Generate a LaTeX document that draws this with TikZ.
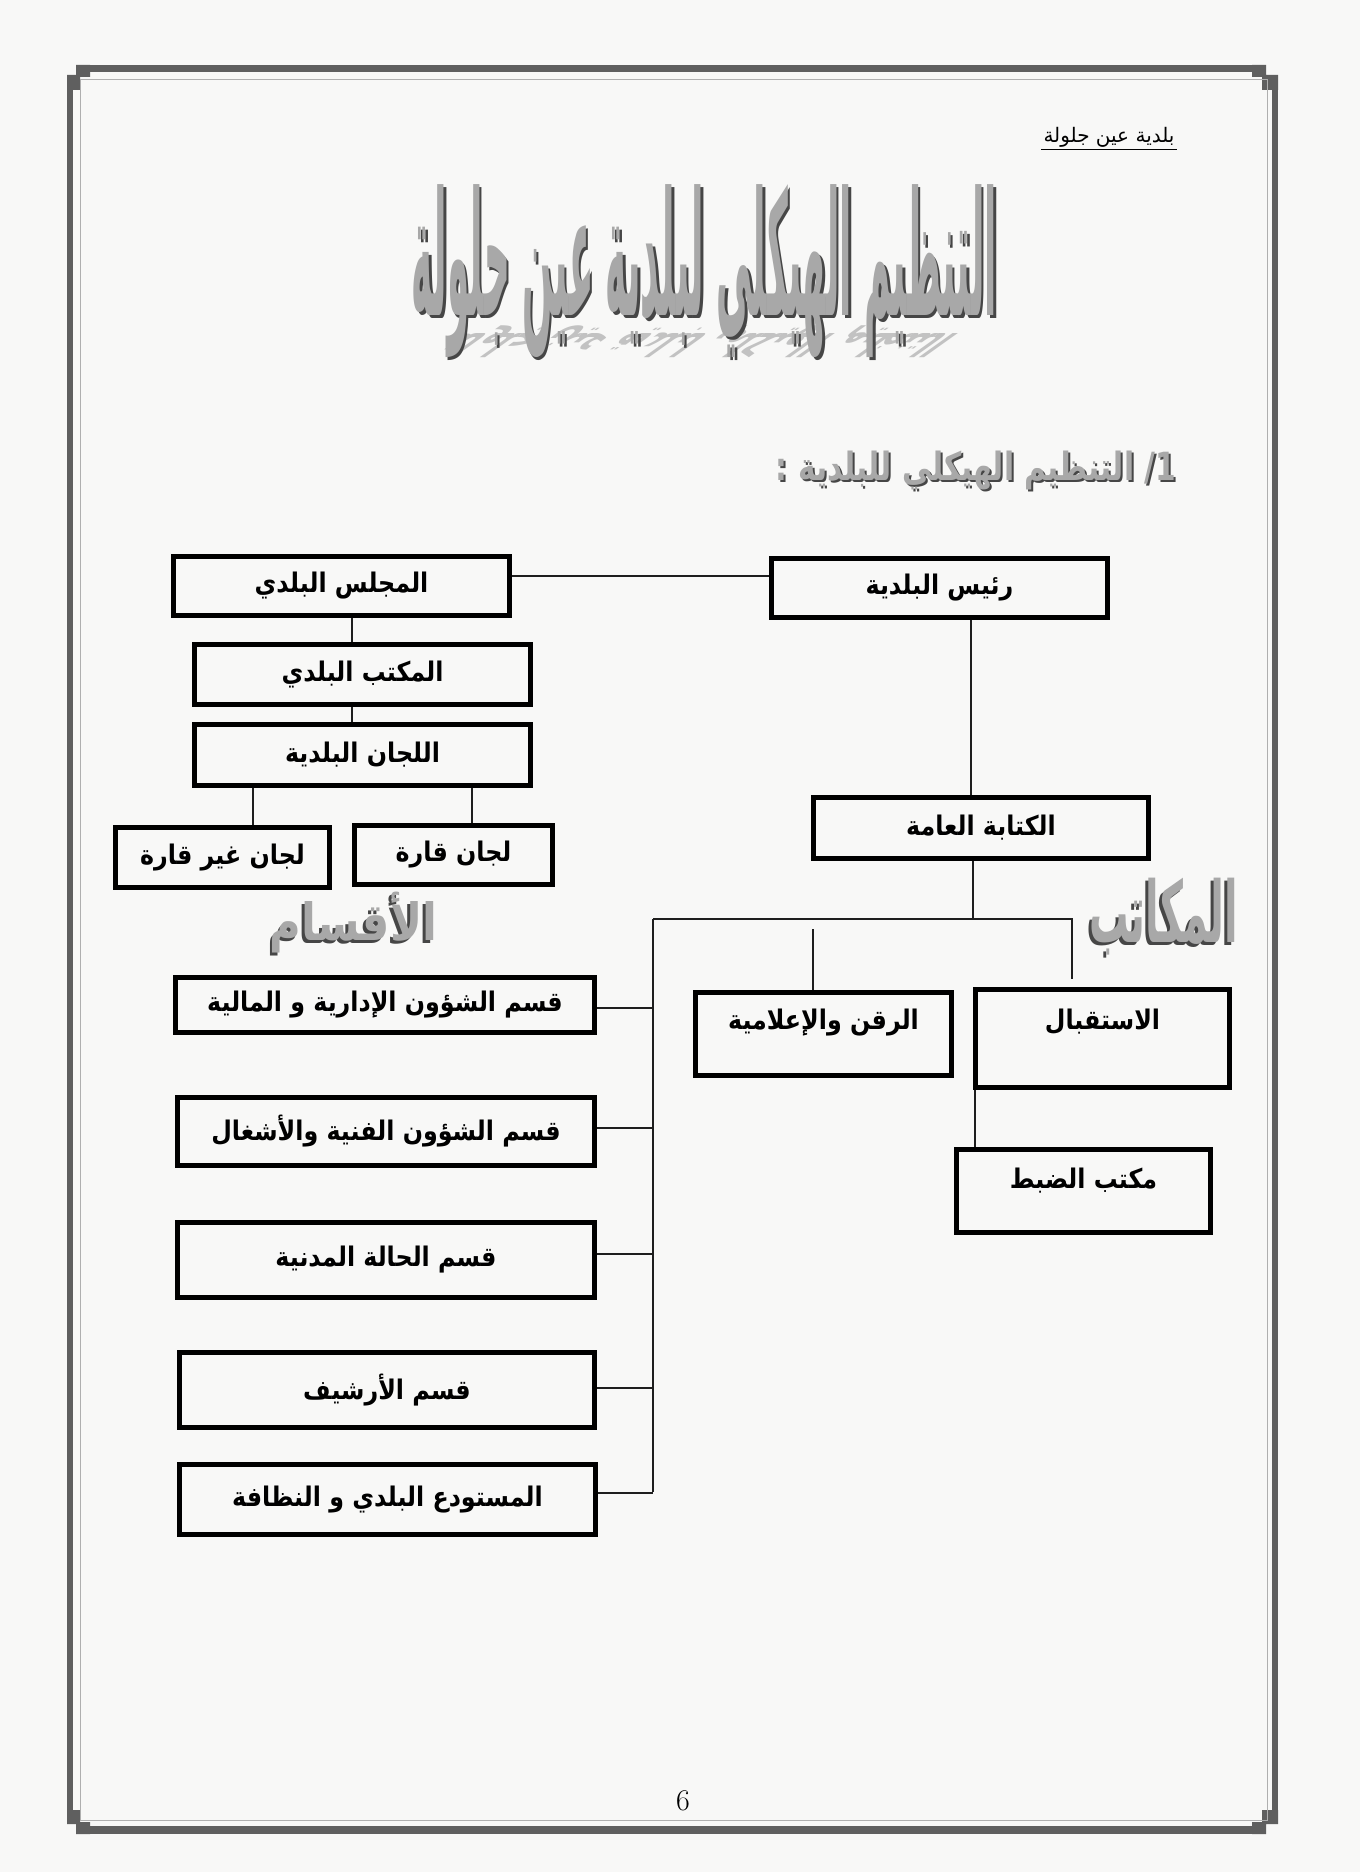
\documentclass[tikz,border=0pt]{standalone}
\usepackage{fontspec}
\usepackage{graphicx}
\usepackage{xcolor}
\usepackage{tikz}
\TeXXeTstate=1
\newfontfamily\arabicfont[Script=Arabic]{DejaVu Sans}
\newfontfamily\arabicbox[Script=Arabic,FakeStretch=0.88]{DejaVu Sans}
\newfontfamily\arabicart[Script=Arabic,AutoFakeSlant=0.25]{DejaVu Sans}
\newcommand{\artxt}[1]{\beginR #1\endR}
\definecolor{pagebg}{RGB}{248,248,247}
\definecolor{framegray}{RGB}{95,95,95}
\definecolor{framelight}{RGB}{175,175,175}
\definecolor{artgray}{RGB}{168,168,168}
\definecolor{artdark}{RGB}{70,70,70}
\definecolor{linkgray}{RGB}{30,30,30}

\begin{document}
\begin{tikzpicture}[x=0.5pt, y=-0.5pt,
  unitbox/.style={draw=black, line width=2.2pt, inner sep=0pt, font=\arabicbox\bfseries\fontsize{13.5}{16}\selectfont},
  link/.style={draw=linkgray, line width=0.8pt},
  art/.style={inner sep=0pt}]

\fill[pagebg] (0,0) rectangle (1360,1872);
\useasboundingbox (0,0) rectangle (1360,1872);

% Page frame
\draw[framegray, line width=3.5pt] (86,69) -- (1256,69);
\draw[framegray, line width=3pt] (1275,90) -- (1275,1812);
\draw[framegray, line width=4pt] (86,1830) -- (1256,1830);
\draw[framegray, line width=3pt] (70,90) -- (70,1812);
\fill[framegray] (1252,65) rectangle (1266,77) (1262,75) rectangle (1278,90);
\fill[framegray] (90,65) rectangle (76,77) (80,75) rectangle (67,90);
\fill[framegray] (1252,1834) rectangle (1266,1822) (1262,1824) rectangle (1278,1810);
\fill[framegray] (90,1834) rectangle (76,1822) (80,1824) rectangle (67,1810);
\draw[framelight, line width=0.5pt] (80,80) rectangle (1267,1820);

% Header and page number
\node[font=\arabicfont\fontsize{10}{12}\selectfont, inner sep=1pt] at (1109,137) (hdr) {\artxt{بلدية عين جلولة}};
\draw[line width=0.6pt] (hdr.south west) -- (hdr.south east);
\node[font=\fontsize{15}{18}\selectfont] at (683,1801) (pagenum) {6};

% Title word art
\node[art, text=artgray!70, xslant=1.4, transform shape] at (700,342) (titlerefl) {\resizebox*{250pt}{16pt}{\scalebox{1}[-1]{\arabicfont\bfseries\artxt{التنظيم الهيكلي لبلدية عين جلولة}}}};
\node[art, text=artdark] at (707,274) (titleshd) {\resizebox*{292.5pt}{86.5pt}{\arabicfont\bfseries\artxt{التنظيم الهيكلي لبلدية عين جلولة}}};
\node[art, text=artgray] at (704.5,271.5) (title) {\resizebox*{292.5pt}{86.5pt}{\arabicfont\bfseries\artxt{التنظيم الهيكلي لبلدية عين جلولة}}};

% Subtitle
\node[art, text=artdark] at (978,472.5) (subshd) {\resizebox*{200pt}{19.5pt}{\arabicart\bfseries\itshape\artxt{\beginL 1/\endL{} التنظيم الهيكلي للبلدية :}}};
\node[art, text=artgray] at (976,470.5) (sub) {\resizebox*{200pt}{19.5pt}{\arabicart\bfseries\itshape\artxt{\beginL 1/\endL{} التنظيم الهيكلي للبلدية :}}};

% Section labels
\node[art, text=artdark] at (350.5,925.5) (aqsamshd) {\resizebox*{83.5pt}{30.5pt}{\arabicfont\bfseries\artxt{الأقسام}}};
\node[art, text=artgray] at (353.5,922.5) (aqsam) {\resizebox*{83.5pt}{30.5pt}{\arabicfont\bfseries\artxt{الأقسام}}};
\node[art, text=artdark] at (1160.5,919.5) (makatibshd) {\resizebox*{74.5pt}{38.5pt}{\arabicfont\bfseries\artxt{المكاتب}}};
\node[art, text=artgray] at (1163.5,916.5) (makatib) {\resizebox*{74.5pt}{38.5pt}{\arabicfont\bfseries\artxt{المكاتب}}};

% Council side
\node[unitbox, minimum width=168pt, minimum height=29.5pt] at (341.5,586) (majlis) {\artxt{المجلس البلدي}};
\node[unitbox, minimum width=168pt, minimum height=30pt] at (362.5,674.5) (maktab) {\artxt{المكتب البلدي}};
\node[unitbox, minimum width=168pt, minimum height=30.5pt] at (362.5,755) (lijan) {\artxt{اللجان البلدية}};
\node[unitbox, minimum width=107pt, minimum height=30pt] at (222.5,857.5) (ghayr) {\artxt{لجان غير قارة}};
\node[unitbox, minimum width=99pt, minimum height=29.5pt] at (453.5,855) (qarra) {\artxt{لجان قارة}};

% Mayor side
\node[unitbox, minimum width=168pt, minimum height=29.5pt] at (939.5,588) (rais) {\artxt{رئيس البلدية}};
\node[unitbox, minimum width=167.5pt, minimum height=30.5pt] at (981,828) (kitaba) {\artxt{الكتابة العامة}};
\node[unitbox, minimum width=127pt, minimum height=49pt, text height=10pt, text depth=19pt] at (1102.5,1038.5) (istiqbal) {\artxt{الاستقبال}};
\node[unitbox, minimum width=128pt, minimum height=41.5pt, text height=10pt, text depth=15pt] at (823.5,1034) (raqn) {\artxt{الرقن والإعلامية}};
\node[unitbox, minimum width=127pt, minimum height=41.5pt, text height=10pt, text depth=13pt] at (1083.5,1191) (dabt) {\artxt{مكتب الضبط}};

% Divisions
\node[unitbox, minimum width=209.5pt, minimum height=27.5pt] at (385,1005) (q1) {\artxt{قسم الشؤون الإدارية و المالية}};
\node[unitbox, minimum width=208.5pt, minimum height=34pt] at (386,1131.5) (q2) {\artxt{قسم الشؤون الفنية والأشغال}};
\node[unitbox, minimum width=208.5pt, minimum height=37.5pt] at (386,1260) (q3) {\artxt{قسم الحالة المدنية}};
\node[unitbox, minimum width=207.5pt, minimum height=37.5pt] at (387,1390) (q4) {\artxt{قسم الأرشيف}};
\node[unitbox, minimum width=208pt, minimum height=35pt] at (387.5,1499.5) (q5) {\artxt{المستودع البلدي و النظافة}};

% Bus points
\coordinate (busL) at (653,919);
\coordinate (busK) at (973,919);
\coordinate (busR) at (1072,919);
\coordinate (busE) at (653,1492);

% Connections: council
\draw[link] (majlis.east |- 0,576) -- (rais.west |- 0,576);
\draw[link] (majlis.south -| 352,0) -- (maktab.north -| 352,0);
\draw[link] (maktab.south -| 352,0) -- (lijan.north -| 352,0);
\draw[link] (lijan.south -| 253,0) -- (ghayr.north -| 253,0);
\draw[link] (lijan.south -| 472,0) -- (qarra.north -| 472,0);

% Connections: mayor and offices
\draw[link] (rais.south -| 971,0) -- (kitaba.north -| 971,0);
\draw[link] (kitaba.south -| busK) -- (busK);
\draw[link, shorten >=4pt] (busL) -- (busR) -- (istiqbal.north -| busR);
\draw[link, shorten <=5pt] (busL -| 813,0) -- (raqn.north -| 813,0);
\draw[link] (istiqbal.south -| 975,0) -- (dabt.north -| 975,0);

% Connections: divisions
\draw[link] (busL) -- (busE);
\foreach \q/\y in {q1/1008, q2/1128, q3/1254, q4/1388, q5/1493}
  \draw[link] (\q.east |- 0,\y) -- (busL |- 0,\y);
\end{tikzpicture}
\end{document}
